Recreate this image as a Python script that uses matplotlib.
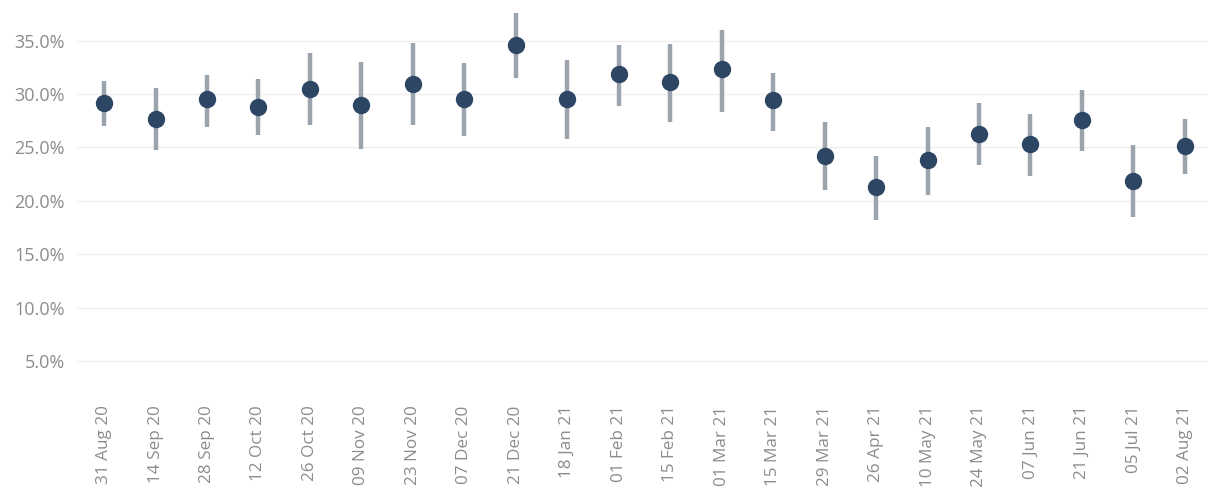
import matplotlib
matplotlib.use("Agg")
import matplotlib.pyplot as plt
from matplotlib.ticker import FuncFormatter, MultipleLocator

categories = ["31 Aug 20", "14 Sep 20", "28 Sep 20", "12 Oct 20", "26 Oct 20", "09 Nov 20",
              "23 Nov 20", "07 Dec 20", "21 Dec 20", "18 Jan 21", "01 Feb 21", "15 Feb 21",
              "01 Mar 21", "15 Mar 21", "29 Mar 21", "26 Apr 21", "10 May 21", "24 May 21",
              "07 Jun 21", "21 Jun 21", "05 Jul 21", "02 Aug 21"]
values = [29.2, 27.7, 29.5, 28.8, 30.5, 29.0, 30.9, 29.5, 34.6, 29.5, 31.9, 31.1,
          32.3, 29.4, 24.2, 21.3, 23.8, 26.3, 25.3, 27.6, 21.9, 25.1]
upper = [31.2, 30.6, 31.8, 31.4, 33.8, 33.0, 34.8, 32.9, 37.6, 33.2, 34.6, 34.7,
         36.0, 32.0, 27.4, 24.2, 26.9, 29.2, 28.1, 30.4, 25.2, 27.7]
lower = [27.0, 24.8, 26.9, 26.2, 27.1, 24.9, 27.1, 26.1, 31.5, 25.8, 28.9, 27.4,
         28.3, 26.5, 21.0, 18.2, 20.6, 23.4, 22.3, 24.7, 18.5, 22.5]

plt.rcParams['font.family'] = ['Open Sans', 'DejaVu Sans']

fig = plt.figure(figsize=(12.08, 5.01), dpi=100)
ax = fig.add_axes([0.064, 0.232, 0.936, 0.768])

x = list(range(len(categories)))
ax.vlines(x, lower, upper, colors="#9ba3ad", linewidth=3.2, zorder=2)
ax.plot(x, values, "o", color="#2d4664", markersize=11.5, zorder=3)

ax.set_xlim(-0.52, 21.45)
ax.set_ylim(2.8, 38.8)
ax.yaxis.set_major_locator(MultipleLocator(5))
ax.yaxis.set_major_formatter(FuncFormatter(lambda v, p: f"{v:.1f}%" if v > 0 else ""))
ax.set_xticks(x)
ax.set_xticklabels(categories, rotation=90, va="top", ha="center")
ax.tick_params(axis="x", length=0, pad=15, labelsize=12.3, labelcolor="#8c8c8c")
ax.tick_params(axis="y", length=0, pad=9, labelsize=13, labelcolor="#8c8c8c")
ax.grid(axis="y", color="#efefef", linewidth=1)
ax.set_axisbelow(True)
for s in ax.spines.values():
    s.set_visible(False)

fig.savefig("out.png", dpi=100)
